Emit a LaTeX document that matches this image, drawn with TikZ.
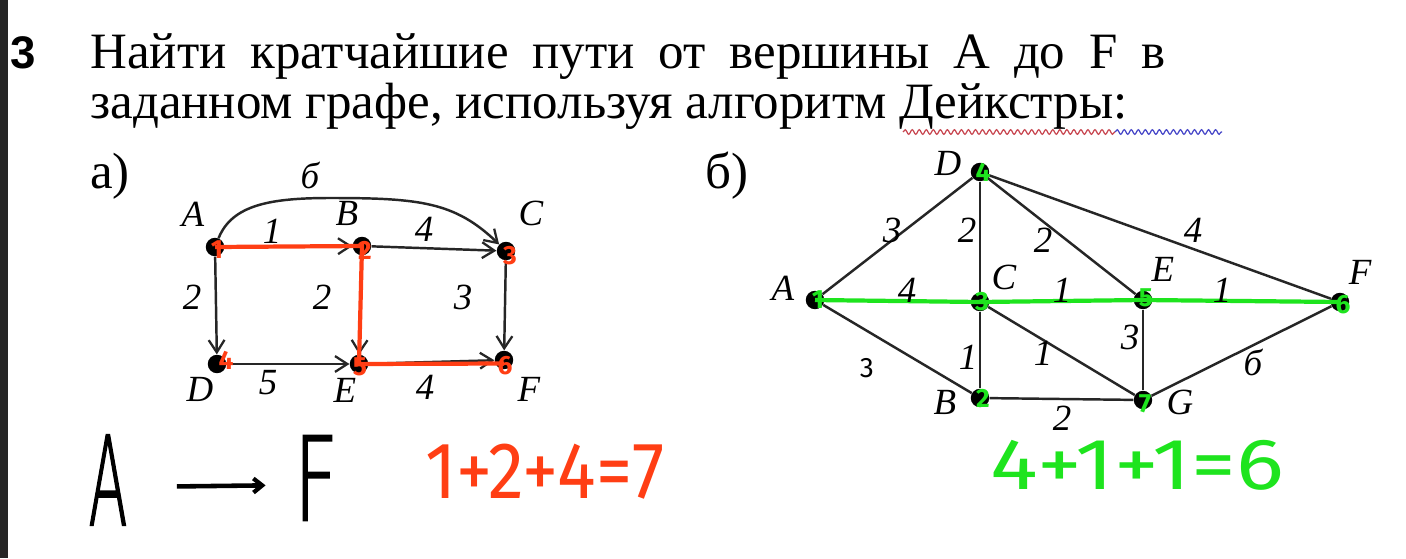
\documentclass[tikz,border=0pt]{standalone}
\usepackage{fontspec}
\setmainfont{Liberation Serif}
\newfontfamily\hand{Fira Sans}
\newfontfamily\handl[FakeBold=2]{DejaVuSans-ExtraLight.ttf}
\newfontfamily\bsans{Liberation Sans}
\usetikzlibrary{arrows.meta,decorations.pathmorphing}
\definecolor{hred}{RGB}{255,62,20}
\definecolor{hgreen}{RGB}{30,228,30}
\definecolor{wavyred}{RGB}{200,70,80}
\definecolor{wavyblue}{RGB}{70,70,200}
\begin{document}
\begin{tikzpicture}[x=0.02cm,y=-0.02cm,
  vdot/.style={circle,fill=black,inner sep=0pt,minimum size=10.5pt},
  vlab/.style={font=\fontsize{21}{21}\selectfont\itshape,inner sep=0pt},
  title/.style={font=\fontsize{29}{32}\selectfont,inner sep=0pt,anchor=base west},
  edge/.style={line width=1.4pt,draw=black!85},
  arr/.style={edge,-{Straight Barb[length=7pt,width=9pt,line width=1.3pt]}},
  rpath/.style={line width=2.4pt,draw=hred},
  gpath/.style={line width=2.4pt,draw=hgreen},
  rnum/.style={font=\hand\bfseries\fontsize{15}{15}\selectfont,text=hred,inner sep=0pt},
  gnum/.style={font=\hand\bfseries\fontsize{15}{15}\selectfont,text=hgreen,inner sep=0pt},
  hw/.style={inner sep=0pt,font=\hand\fontsize{60}{60}\selectfont},
  hwl/.style={inner sep=0pt,font=\handl\fontsize{60}{60}\selectfont}]
\useasboundingbox (0,0) rectangle (1406,558);
\fill[white] (0,0) rectangle (1406,558);

% task number and left bar
\fill[black!85] (0,0) rectangle (8,558);
\node[title,font=\bsans\bfseries\fontsize{26}{26}\selectfont] (num) at (10,68) {3};

% title
\node[title] (t1) at (90,68) {\makebox[612pt][s]{Найти кратчайшие пути от вершины A до F в}};
\node[title] (t2) at (90,118) {заданном графе, используя алгоритм Дейкстры:};
\draw[wavyred,line width=0.7pt,decorate,decoration={snake,amplitude=1.3pt,segment length=4pt}] (903,132) -- (1115,132);
\draw[wavyblue,line width=0.7pt,decorate,decoration={snake,amplitude=1.3pt,segment length=4pt}] (1115,132) -- (1222,132);

\node[title] (pa) at (90,188) {а)};
\node[title] (pb) at (705,188) {б)};

% ---------- graph a ----------
\node[vdot] (A) at (215,247) {};
\node[vdot] (B) at (362,246) {};
\node[vdot] (C) at (506,251) {};
\node[vdot] (D) at (217,364) {};
\node[vdot] (E) at (359,364) {};
\node[vdot] (F) at (504,360) {};

\draw[arr] (A) -- (B);
\draw[arr] (B) -- (C);
\draw[arr] (A) -- (D);
\draw[arr] (B) -- (E);
\draw[arr] (C) -- (F);
\draw[arr] (D) -- (E);
\draw[arr] (E) -- (F);
\draw[arr] (A) .. controls (232,205) and (270,198) .. (330,198) .. controls (420,198) and (455,202) .. (C);

\node[vlab] (lA) at (193,214) {A};
\node[vlab] (lB) at (347,213) {B};
\node[vlab] (lC) at (531,213) {C};
\node[vlab] (lD) at (200,389) {D};
\node[vlab] (lE) at (345,390) {E};
\node[vlab] (lF) at (529,389) {F};

\node[vlab] (w6) at (310,175) {б};
\node[vlab] (w1) at (272,231) {1};
\node[vlab] (w4a) at (424,229) {4};
\node[vlab] (w2a) at (192,297) {2};
\node[vlab] (w2b) at (322,297) {2};
\node[vlab] (w3) at (463,297) {3};
\node[vlab] (w5) at (268,383) {5};
\node[vlab] (w4b) at (425,387) {4};

\draw[rpath] (A.center) -- (B.center) -- (E.center) -- ([yshift=-2pt]F.center);
\node[rnum] (r1) at (217,250) {1};
\node[rnum] (r2) at (365,250) {2};
\node[rnum] (r3) at (510,256) {3};
\node[rnum] (r4) at (226,360) {4};
\node[rnum] (r5) at (360,367) {5};
\node[rnum] (r6) at (505,366) {6};

% ---------- graph b ----------
\node[vdot] (bA) at (815,300) {};
\node[vdot] (bD) at (980,172) {};
\node[vdot] (bC) at (980,302) {};
\node[vdot] (bB) at (980,398) {};
\node[vdot] (bE) at (1143,300) {};
\node[vdot] (bG) at (1143,400) {};
\node[vdot] (bF) at (1340,302) {};

\draw[edge] (bA) -- (bD);
\draw[edge] (bA) -- (bB);
\draw[edge] (bD) -- (bC);
\draw[edge] (bD) -- (bE);
\draw[edge] (bD) -- (bF);
\draw[edge] (bC) -- (bB);
\draw[edge] (bC) -- (bG);
\draw[edge] (bE) -- (bG);
\draw[edge] (bB) -- (bG);
\draw[edge] (bG) -- (bF);
\draw[gpath] (bA.center) -- (bC.center) -- (bE.center) -- (bF.center);

\node[vlab] (blD) at (948,163) {D};
\node[vlab] (blC) at (1004,277) {C};
\node[vlab] (blA) at (783,288) {A};
\node[vlab] (blB) at (945,402) {B};
\node[vlab] (blE) at (1163,269) {E};
\node[vlab] (blF) at (1360,272) {F};
\node[vlab] (blG) at (1180,402) {G};

\node[vlab] (bw1) at (892,230) {3};
\node[vlab] (bw2) at (967,230) {2};
\node[vlab] (bw3) at (1043,240) {2};
\node[vlab] (bw4) at (1193,230) {4};
\node[vlab] (bw5) at (907,290) {4};
\node[vlab] (bw6) at (1062,290) {1};
\node[vlab] (bw7) at (1222,290) {1};
\node[vlab] (bw8) at (968,357) {1};
\node[vlab] (bw9) at (1043,353) {1};
\node[vlab] (bw10) at (1130,337) {3};
\node[vlab] (bw11) at (1062,418) {2};
\node[vlab] (bw12) at (1253,362) {б};
\node[hw,font=\hand\fontsize{16}{16}\selectfont] (h3) at (867,368) {3};

\node[gnum] (g1) at (818,300) {1};
\node[gnum] (g2) at (983,398) {2};
\node[gnum] (g3) at (982,302) {3};
\node[gnum] (g4) at (983,172) {4};
\node[gnum] (g5) at (1146,298) {5};
\node[gnum] (g6) at (1343,305) {6};
\node[gnum] (g7) at (1145,404) {7};

% ---------- handwriting ----------
\node[hwl] (hA) at (108,480) {\resizebox{22pt}{51pt}{A}};
\node[hwl] (hF) at (316,478) {\resizebox{25pt}{48pt}{F}};
\draw[line width=2.6pt,-{Straight Barb[length=5pt,width=8pt,line width=2.4pt]},shorten <=28pt,shorten >=16pt]
  ([yshift=-4pt]hA.east) -- ([yshift=-4pt]hF.west);
\node[hw,text=hred] (rsum) at (545,472) {\resizebox{136pt}{31pt}{1+2+4=7}};
\node[hw,text=hgreen] (gsum) at (1137,465) {\resizebox{167pt}{28pt}{4+1+1=6}};
\end{tikzpicture}
\end{document}
